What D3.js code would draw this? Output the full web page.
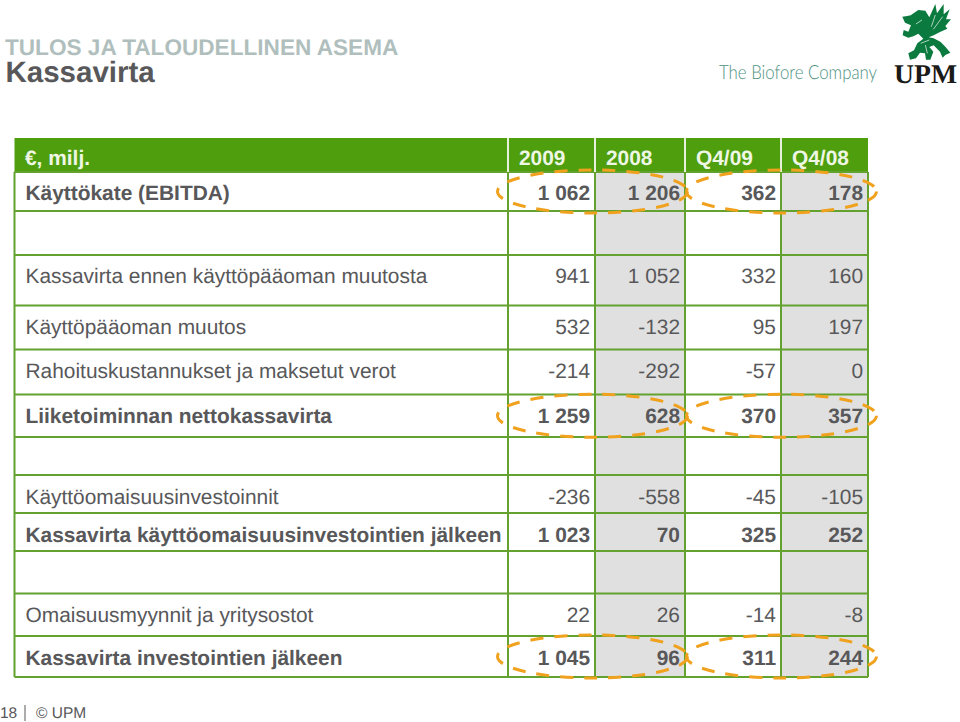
<!DOCTYPE html>
<html>
<head>
<meta charset="utf-8">
<script src="https://d3js.org/d3.v7.min.js"></script>
<style>
  html, body { margin: 0; padding: 0; background: #fff; }
  svg { display: block; }
  text { font-family: "Liberation Sans", Arial, sans-serif; text-rendering: geometricPrecision; }
</style>
</head>
<body>
<div id="chart"></div>
<script>
var svgWidth = 960;
var svgHeight = 722;

// data
var periods = ["2009", "2008", "Q4/09", "Q4/08"];
var rowLabels = [
  "Käyttökate (EBITDA)",
  "",
  "Kassavirta ennen käyttöpääoman muutosta",
  "Käyttöpääoman muutos",
  "Rahoituskustannukset ja maksetut verot",
  "Liiketoiminnan nettokassavirta",
  "",
  "Käyttöomaisuusinvestoinnit",
  "Kassavirta käyttöomaisuusinvestointien jälkeen",
  "",
  "Omaisuusmyynnit ja yritysostot",
  "Kassavirta investointien jälkeen"
];
var boldRows = [0, 5, 8, 11];
var highlightRows = [0, 5, 11];
var values2009 = [1062, null, 941, 532, -214, 1259, null, -236, 1023, null, 22, 1045];
var values2008 = [1206, null, 1052, -132, -292, 628, null, -558, 70, null, 26, 96];
var valuesQ409 = [362, null, 332, 95, -57, 370, null, -45, 325, null, -14, 311];
var valuesQ408 = [178, null, 160, 197, 0, 357, null, -105, 252, null, -8, 244];
var seriesValues = [values2009, values2008, valuesQ409, valuesQ408];

// table layout, rows are not evenly spaced in the slide
var colEdges = [14.5, 508, 595, 685, 781, 868];
var rowEdges = [172, 211, 255, 305.5, 349.5, 394.5, 437, 475, 513, 551, 593.5, 636, 677];
var rowBaselines = [200, 0, 283, 334, 378, 423, 0, 504, 542, 0, 622, 665];

var gridColor = "#63a22f";
var textColor = "#58585a";
var fontSize = 20.9;

var rowIndex = d3.range(rowLabels.length);
var colIndex = d3.range(periods.length);

var xLeft = d3.scaleOrdinal().domain(colIndex).range(colEdges.slice(1, 5));
var xRight = d3.scaleOrdinal().domain(colIndex).range(colEdges.slice(2, 6));
var yBase = d3.scaleOrdinal().domain(rowIndex).range(rowBaselines);
var yTop = d3.scaleOrdinal().domain(rowIndex).range(rowEdges.slice(0, 12));
var yBottom = d3.scaleOrdinal().domain(rowIndex).range(rowEdges.slice(1));

var formatValue = d3.formatLocale({
  decimal: ",", thousands: " ", grouping: [3], currency: ["", ""], minus: "-"
}).format(",d");

var svg = d3.select("#chart")
  .append("svg")
    .attr("width", svgWidth)
    .attr("height", svgHeight);

// titles
svg.append("text")
  .attr("x", 5).attr("y", 54.5)
  .attr("font-size", 22.6).attr("font-weight", "bold")
  .attr("fill", "#b0bfbd")
  .text("TULOS JA TALOUDELLINEN ASEMA");
svg.append("text")
  .attr("x", 5.5).attr("y", 82)
  .attr("font-size", 29.5).attr("font-weight", "bold")
  .attr("fill", textColor)
  .text("Kassavirta");

// logo
var logo = svg.append("g").attr("transform", "translate(890, 0) scale(0.3333)");
logo.append("path")
  .attr("fill", "#0a7a3e")
  .attr("d", "M62 46 L85 30 L106 32 L118 52 L136 12 L141 40 L161 12 L161 43 L179 28 L168 58 L183 58 L166 78 L172 86 L150 96 L131 106 L116 112 L131 115 L151 125 L166 140 L181 158 L166 165 L158 173 L150 155 L131 136 L118 141 L130 155 L121 179 L108 179 L105 160 L90 158 L78 175 L60 179 L55 160 L72 151 L82 130 L100 116 L85 101 L70 109 L55 113 L38 106 L41 90 L55 95 L63 76 L45 68 L37 50 L52 48 Z");
logo.append("path")
  .attr("fill", "none").attr("stroke", "#fff").attr("stroke-width", 2)
  .attr("d", "M136 45 L124 80 M158 50 L130 88 M96 60 L78 72 M92 130 L118 120 M112 160 L106 135");

svg.append("text")
  .attr("x", 719).attr("y", 79)
  .attr("font-size", 19.5).attr("font-weight", 300)
  .attr("fill", "#4d8f80")
  .style("font-family", "Lato, sans-serif")
  .attr("textLength", 158).attr("lengthAdjust", "spacingAndGlyphs")
  .text("The Biofore Company");
svg.append("text")
  .attr("x", 894).attr("y", 83)
  .attr("font-size", 27).attr("font-weight", "bold")
  .attr("fill", "#1a1a18")
  .style("font-family", "'Liberation Serif', serif")
  .attr("textLength", 63).attr("lengthAdjust", "spacingAndGlyphs")
  .text("UPM");

// header band
svg.append("rect")
  .attr("x", colEdges[0]).attr("y", 138)
  .attr("width", colEdges[5] - colEdges[0]).attr("height", 34)
  .attr("fill", "#4f9e0e");

// grey columns
svg.selectAll("rect.shade")
  .data([1, 3])
  .enter()
  .append("rect")
    .attr("class", "shade")
    .attr("x", d => xLeft(d))
    .attr("y", rowEdges[0])
    .attr("width", d => xRight(d) - xLeft(d))
    .attr("height", rowEdges[12] - rowEdges[0])
    .attr("fill", "#e0e0e0");

// grid
svg.selectAll("line.hgrid")
  .data(rowEdges)
  .enter()
  .append("line")
    .attr("class", "hgrid")
    .attr("x1", colEdges[0]).attr("x2", colEdges[5])
    .attr("y1", d => d).attr("y2", d => d)
    .attr("stroke", gridColor)
    .attr("stroke-width", 2);
svg.selectAll("line.vgrid")
  .data(colEdges)
  .enter()
  .append("line")
    .attr("class", "vgrid")
    .attr("x1", d => d).attr("x2", d => d)
    .attr("y1", rowEdges[0]).attr("y2", rowEdges[12])
    .attr("stroke", gridColor)
    .attr("stroke-width", 2);
svg.selectAll("line.hsep")
  .data(colEdges.slice(1, 5))
  .enter()
  .append("line")
    .attr("class", "hsep")
    .attr("x1", d => d).attr("x2", d => d)
    .attr("y1", 138).attr("y2", rowEdges[0])
    .attr("stroke", "#e6f0da")
    .attr("stroke-width", 2);

// header labels
svg.append("text")
  .attr("x", 25).attr("y", 165)
  .attr("font-size", fontSize).attr("font-weight", "bold")
  .attr("fill", "#eef6e4")
  .text("€, milj.");
svg.selectAll("text.period")
  .data(periods)
  .enter()
  .append("text")
    .attr("class", "period")
    .attr("x", (d, i) => xLeft(i) + 11)
    .attr("y", 165)
    .attr("font-size", fontSize).attr("font-weight", "bold")
    .attr("fill", "#eef6e4")
    .text(d => d);

// row labels
svg.selectAll("text.rowLabel")
  .data(rowIndex.filter(i => rowLabels[i] !== ""))
  .enter()
  .append("text")
    .attr("class", "rowLabel")
    .attr("x", 25.5)
    .attr("y", d => yBase(d))
    .attr("font-size", fontSize)
    .attr("font-weight", d => boldRows.includes(d) ? "bold" : "normal")
    .attr("fill", textColor)
    .text(d => rowLabels[d]);

// values
var cols = svg.selectAll("g.col")
  .data(seriesValues)
  .enter()
  .append("g")
    .attr("class", "col");
cols.each(function(vals, c) {
  d3.select(this).selectAll("text")
    .data(rowIndex.filter(i => vals[i] !== null))
    .enter()
    .append("text")
      .attr("x", xRight(c) - 5)
      .attr("y", d => yBase(d))
      .attr("text-anchor", "end")
      .attr("font-size", fontSize)
      .attr("font-weight", d => boldRows.includes(d) ? "bold" : "normal")
      .attr("fill", textColor)
      .text(d => formatValue(vals[d]));
});

// dashed highlight rings, one round the years and one round the quarters
var rings = [];
highlightRows.forEach(r => {
  rings.push({ row: r, cx: 592.5 });
  rings.push({ row: r, cx: 781.5 });
});
svg.selectAll("ellipse")
  .data(rings)
  .enter()
  .append("ellipse")
    .attr("cx", d => d.cx)
    .attr("cy", d => (yTop(d.row) + yBottom(d.row)) / 2)
    .attr("rx", 95)
    .attr("ry", 21.5)
    .attr("fill", "none")
    .attr("stroke", "#f0a11e")
    .attr("stroke-width", 3)
    .attr("stroke-dasharray", "13 11");

// footer
svg.append("text")
  .attr("x", 0).attr("y", 718)
  .attr("font-size", 15.5).attr("fill", textColor)
  .text("18");
svg.append("line")
  .attr("x1", 25).attr("x2", 25)
  .attr("y1", 705).attr("y2", 721)
  .attr("stroke", textColor).attr("stroke-width", 1);
svg.append("text")
  .attr("x", 36).attr("y", 718)
  .attr("font-size", 15.5).attr("fill", textColor)
  .text("© UPM");
</script>
</body>
</html>
